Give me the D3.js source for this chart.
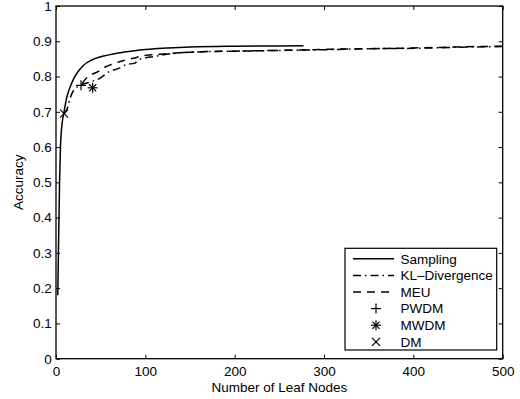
<!DOCTYPE html>
<html lang="en">
<head>
<meta charset="UTF-8">
<title>Accuracy vs Leaf Nodes</title>
<script src="https://d3js.org/d3.v7.min.js"></script>
<style>
  body { margin: 0; background: #fff; }
  text { font-family: "Liberation Sans", Arial, sans-serif; fill: #000; }
</style>
</head>
<body>
<div id="chart"></div>
<script>
// data
const samplingX = [2, 3, 4, 5, 7, 9, 12, 15, 20, 25, 30, 40, 50, 70, 90, 125, 150, 200, 277];
const samplingY = [0.18, 0.35, 0.5, 0.6, 0.67, 0.7, 0.74, 0.765, 0.795, 0.815, 0.83, 0.847, 0.856, 0.867, 0.874, 0.881, 0.884, 0.886, 0.887];

const klX = [9, 12, 16, 20, 28, 40, 49, 59, 70, 79, 88, 94, 110, 130, 150, 200, 250, 300, 350, 400, 450, 500];
const klY = [0.695, 0.705, 0.74, 0.762, 0.776, 0.786, 0.795, 0.813, 0.823, 0.834, 0.838, 0.849, 0.857, 0.865, 0.869, 0.872, 0.874, 0.876, 0.879, 0.88, 0.883, 0.885];

const meuX = [29, 35, 40, 47, 55, 64, 75, 85, 100, 116, 150, 200, 250, 300, 350, 400, 450, 500];
const meuY = [0.78, 0.798, 0.806, 0.814, 0.827, 0.836, 0.845, 0.851, 0.86, 0.863, 0.869, 0.872, 0.874, 0.877, 0.879, 0.881, 0.884, 0.886];

const pwdm = [28, 0.775];
const mwdm = [41, 0.768];
const dm = [9, 0.695];

const xTicks = [0, 100, 200, 300, 400, 500];
const yTicks = [0, 0.1, 0.2, 0.3, 0.4, 0.5, 0.6, 0.7, 0.8, 0.9, 1];
const legendNames = ["Sampling", "KL\u2013Divergence", "MEU", "PWDM", "MWDM", "DM"];

const W = 520, H = 399;
const plotL = 56, plotR = 502.7, plotT = 6, plotB = 358.7;

const svg = d3.select("#chart").append("svg")
    .attr("width", W).attr("height", H);

const x = d3.scaleLinear().domain([0, 500]).range([plotL, plotR]);
const y = d3.scaleLinear().domain([0, 1]).range([plotB, plotT]);

// axes (ticks pointing inward, mirrored on top/right)
const fmtY = d => d === 0 || d === 1 ? String(d) : d3.format(".1f")(d);
const axisStyle = g => {
    g.select(".domain").remove();
    g.attr("font-size", null).attr("font-family", null);
    g.selectAll("line").attr("stroke", "#000");
    g.selectAll("text").style("font-size", "13.5px");
};

svg.append("g").attr("transform", `translate(0,${plotB})`)
    .call(d3.axisBottom(x).tickValues(xTicks).tickSize(-4).tickPadding(7.5).tickFormat(d3.format("d")))
    .call(axisStyle);
svg.append("g").attr("transform", `translate(0,${plotT})`)
    .call(d3.axisTop(x).tickValues(xTicks).tickSize(-4).tickFormat(""))
    .call(axisStyle);
svg.append("g").attr("transform", `translate(${plotL},0)`)
    .call(d3.axisLeft(y).tickValues(yTicks).tickSize(-4).tickPadding(4.3).tickFormat(fmtY))
    .call(axisStyle);
svg.append("g").attr("transform", `translate(${plotR},0)`)
    .call(d3.axisRight(y).tickValues(yTicks).tickSize(-4).tickFormat(""))
    .call(axisStyle);

svg.append("rect")
    .attr("x", plotL).attr("y", plotT)
    .attr("width", plotR - plotL).attr("height", plotB - plotT)
    .attr("fill", "none").attr("stroke", "#000").attr("stroke-width", 1.3);

// curves
const line = d3.line().x(d => x(d[0])).y(d => y(d[1])).curve(d3.curveMonotoneX);
const zip = (xs, ys) => xs.map((v, i) => [v, ys[i]]);

const series = [
    { data: zip(samplingX, samplingY), dash: null },
    { data: zip(klX, klY), dash: "8,4,1.5,4" },
    { data: zip(meuX, meuY), dash: "8,6" }
];

svg.selectAll(".curve").data(series).enter()
    .append("path")
    .attr("class", "curve")
    .attr("d", d => line(d.data))
    .attr("fill", "none")
    .attr("stroke", "#000")
    .attr("stroke-width", 1.5)
    .attr("stroke-dasharray", d => d.dash);

// markers
function marker(g, type, cx, cy) {
    const s = 5;
    if (type === "plus" || type === "star") {
        g.append("line").attr("x1", cx - s).attr("x2", cx + s).attr("y1", cy).attr("y2", cy);
        g.append("line").attr("x1", cx).attr("x2", cx).attr("y1", cy - s).attr("y2", cy + s);
    }
    if (type === "cross" || type === "star") {
        const k = type === "star" ? s * 0.72 : 4;
        g.append("line").attr("x1", cx - k).attr("x2", cx + k).attr("y1", cy - k).attr("y2", cy + k);
        g.append("line").attr("x1", cx - k).attr("x2", cx + k).attr("y1", cy + k).attr("y2", cy - k);
    }
    g.attr("stroke", "#000").attr("stroke-width", 1.2);
}

marker(svg.append("g"), "plus", x(pwdm[0]), y(pwdm[1]));
marker(svg.append("g"), "star", x(mwdm[0]), y(mwdm[1]));
marker(svg.append("g"), "cross", x(dm[0]), y(dm[1]));

// labels
svg.append("text")
    .attr("x", (plotL + plotR) / 2).attr("y", 391.5)
    .attr("text-anchor", "middle")
    .style("font-size", "13.5px")
    .text("Number of Leaf Nodes");

svg.append("text")
    .attr("transform", `translate(23,${(plotT + plotB) / 2}) rotate(-90)`)
    .attr("text-anchor", "middle")
    .style("font-size", "13.5px")
    .text("Accuracy");

// legend
const lg = svg.append("g");
lg.append("rect")
    .attr("x", 345).attr("y", 248.3)
    .attr("width", 151.7).attr("height", 101.7)
    .attr("fill", "#fff").attr("stroke", "#000").attr("stroke-width", 1.2);

const legendKinds = [
    { line: null }, { line: "8,4,1.5,4" }, { line: "8,6" },
    { mark: "plus" }, { mark: "star" }, { mark: "cross" }
];

legendNames.forEach((name, i) => {
    const cy = 258.8 + i * 16.6;
    const k = legendKinds[i];
    if (k.mark) {
        marker(lg.append("g"), k.mark, 376, cy);
    } else {
        lg.append("line")
            .attr("x1", 353).attr("x2", 394).attr("y1", cy).attr("y2", cy)
            .attr("stroke", "#000").attr("stroke-width", 1.5)
            .attr("stroke-dasharray", k.line);
    }
    lg.append("text")
        .attr("x", 400.5).attr("y", cy + 4.8)
        .style("font-size", "13.5px")
        .text(name);
});
</script>
</body>
</html>
